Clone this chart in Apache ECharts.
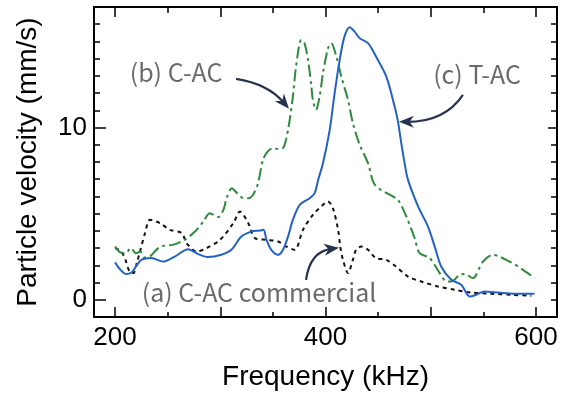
<!DOCTYPE html>
<html><head><meta charset="utf-8">
<script src="https://cdn.jsdelivr.net/npm/echarts@6/dist/echarts.min.js"></script>
<style>html,body{margin:0;padding:0;background:#fff}#c{width:566px;height:396px}</style>
</head><body><div id="c"></div>
<script>
// (c) T-AC
const tacFreq = [200,205,210.7,216,220,225,234.5,245.6,256.7,269.4,279,288,301,310.5,320,329.5,337.5,341,344,348.5,355,359.6,364.4,369,375.5,385,389.7,393,397.6,404,408.7,413.5,418,423,427.7,432.5,440.4,448,457.8,465.7,469,472,475,478.4,488,497.4,503.8,510,519.5,529,537,543,551,564,579.8,598.7];
const tacVel  = [2.17,1.75,1.49,1.6,1.95,2.32,2.42,2.22,2.51,2.94,2.65,2.48,2.61,2.90,3.67,3.96,4.02,4.06,3.48,2.9,2.61,2.90,3.67,4.64,5.51,5.90,6.19,6.96,7.93,9.87,12.0,13.93,15.28,15.83,15.57,15.19,14.9,14.12,12.96,11.22,10.3,9.1,8.0,6.96,5.42,4.25,3.09,1.93,1.16,0.87,0.19,0.29,0.48,0.42,0.35,0.35];
// (b) C-AC
const cacFreq = [200,205,210,215,220,224,228,233,241,246,255,266,276,284,290,298,303,306,311,316,322,327,332,336,340.6,345,350,355,359.6,364.4,369,372,377,380,383.4,386.6,388,391,394.4,397.6,402.4,405.5,410.3,415,421.4,426,432.5,440.4,447,464,469,476.8,484.7,489.4,499,508.5,515,519.5,527.5,532,540,549.6,559,575,587.7,598.7];
const cacVel  = [3.09,2.75,2.7,3.0,2.7,2.8,2.45,2.51,3.0,3.13,3.19,3.48,3.96,4.55,5.03,4.8,5.22,5.9,6.48,6.19,5.9,5.9,6.19,6.8,8.13,8.6,8.8,8.75,8.8,9.87,11.8,13.54,15.09,14.9,13.93,12.38,11.6,11.03,11.8,13.16,14.6,14.9,14.12,12.96,11.6,10.26,9.0,7.93,6.67,6.0,5.8,4.84,3.58,2.71,2.42,1.55,1.06,1.06,1.45,1.5,1.26,2.22,2.61,2.22,1.74,1.26];
// (a) C-AC commercial
const comFreq = [200,206,210,214,217.4,221,223.7,228.5,233.3,242.8,252,263.4,268,277.6,287,299.8,312.4,318.8,326.6,333,344,355,362.8,370.7,378.6,388,396,402.4,407,412,414,416.6,421.4,426,429,434,440.4,448,457.8,467,478.4,491,507,522.8,538.6,557.5,576.5,595.6];
const comVel  = [3.0,2.8,2.3,1.6,1.55,2.2,2.8,3.87,4.64,4.45,4.06,3.87,3.29,2.8,3.0,3.48,4.45,5.12,4.45,3.58,3.48,3.38,3.09,2.9,4.06,4.93,5.42,5.71,5.32,4.06,3.09,2.32,1.55,2.32,2.9,3.09,2.9,2.42,2.32,1.93,1.35,1.06,0.77,0.58,0.42,0.35,0.29,0.23];

const xMinorTicks = [200,250,300,350,400,450,500,550,600];
const xMajorTicks = [200,300,400,500,600];
const xLabels = [200,400,600];
const yMinorTicks = [0,1,2,3,4,5,6,7,8,9,10,11,12,13,14,15,16];
const yLabels = [0,10];

const pair = (xs, ys) => xs.map((x, i) => [x, ys[i]]);
const chart = echarts.init(document.getElementById('c'), null, {renderer: 'canvas'});
const AX = '#000';
const font = 'Liberation Sans';
function xAx(pos, ticks, len, labels, extra) {
  return Object.assign({
    type: 'value', min: 180, max: 620, position: pos,
    axisLine: {show: true, onZero: false, lineStyle: {color: AX, width: 2}},
    axisTick: {show: true, inside: true, length: len, customValues: ticks, lineStyle: {color: AX, width: 1.5}},
    axisLabel: labels ? {show: true, customValues: labels, fontSize: 26, color: '#000', fontFamily: font, margin: 8} : {show: false},
    splitLine: {show: false}
  }, extra || {});
}
function yAx(pos, ticks, len, labels, extra) {
  return Object.assign({
    type: 'value', min: -1, max: 17, position: pos,
    axisLine: {show: true, onZero: false, lineStyle: {color: AX, width: 2}},
    axisTick: {show: true, inside: true, length: len, customValues: ticks, lineStyle: {color: AX, width: 1.5}},
    axisLabel: labels ? {show: true, customValues: labels, fontSize: 26, color: '#000', fontFamily: font, margin: 7} : {show: false},
    splitLine: {show: false}
  }, extra || {});
}
chart.setOption({
  animation: false,
  backgroundColor: '#fff',
  grid: {left: 94, right: 9, top: 7, bottom: 79, containLabel: false},
  xAxis: [
    xAx('bottom', xMinorTicks, 5, xLabels, {name: 'Frequency (kHz)', nameLocation: 'middle', nameGap: 46, nameTextStyle: {fontSize: 28, color: '#000', fontFamily: font}}),
    xAx('bottom', xMajorTicks, 10, null),
    xAx('top', xMinorTicks, 6, null),
    xAx('top', xMajorTicks, 10, null)
  ],
  yAxis: [
    yAx('left', yMinorTicks, 6, yLabels, {name: 'Particle velocity (mm/s)', nameLocation: 'middle', nameGap: 52, nameTextStyle: {fontSize: 28, color: '#000', fontFamily: font}}),
    yAx('left', yLabels, 12, null),
    yAx('right', yMinorTicks, 6, null),
    yAx('right', [10], 9, null)
  ],
  series: [
    {type: 'line', name: '(a) C-AC commercial', data: pair(comFreq, comVel), showSymbol: false, smooth: 0.3,
     lineStyle: {color: '#111', width: 2, type: [4, 4]}},
    {type: 'line', name: '(b) C-AC', data: pair(cacFreq, cacVel), showSymbol: false, smooth: 0.3,
     lineStyle: {color: '#2e8b3a', width: 2, type: [12, 4, 3, 4]}},
    {type: 'line', name: '(c) T-AC', data: pair(tacFreq, tacVel), showSymbol: false, smooth: 0.3,
     lineStyle: {color: '#2362c4', width: 2}}
  ]
});

// Annotations in data coordinates
const annoLabels = [
  {text: '(b) C-AC', at: [258, 13.17]},
  {text: '(c) T-AC', at: [544, 13.06]},
  {text: '(a) C-AC commercial', at: [336.8, 0.41]}
];
const annoArrows = [
  {from: [315.0, 12.83], ctrl: [345.4, 12.54], to: [365.3, 11.09]},
  {from: [530.6, 11.90], ctrl: [513.5, 10.33], to: [469.8, 10.33]},
  {from: [381.5, 1.16], ctrl: [385.3, 2.79], to: [412.8, 3.02]}
];
const P = (d) => chart.convertToPixel({gridIndex: 0}, d);
const ARROW = '#26324f';
const graphics = [];
annoLabels.forEach(a => {
  const p = P(a.at);
  graphics.push({type: 'text', x: p[0], y: p[1], z: 20,
    style: {text: a.text, fontSize: 25, fill: '#6a6a6a', fontFamily: 'Noto Sans CJK JP', align: 'center', verticalAlign: 'middle'}});
});
annoArrows.forEach(a => {
  const s = P(a.from), c = P(a.ctrl), t = P(a.to);
  const dx = t[0] - c[0], dy = t[1] - c[1], L = Math.hypot(dx, dy);
  const ux = dx / L, uy = dy / L, nx = -uy, ny = ux;
  const len = 15, w = 6;
  const bx = t[0] - ux * len, by = t[1] - uy * len;
  const mx = t[0] - ux * len * 0.7, my = t[1] - uy * len * 0.7;
  const e = [t[0] - ux * 8, t[1] - uy * 8];
  graphics.push({type: 'bezierCurve', z: 20,
    shape: {x1: s[0], y1: s[1], cpx1: c[0], cpy1: c[1], x2: e[0], y2: e[1]},
    style: {stroke: ARROW, lineWidth: 2.2, fill: null}});
  graphics.push({type: 'polygon', z: 21,
    shape: {points: [[t[0], t[1]], [bx + nx * w, by + ny * w], [mx, my], [bx - nx * w, by - ny * w]]},
    style: {fill: ARROW}});
});
chart.setOption({graphic: graphics});
</script>
</body></html>
